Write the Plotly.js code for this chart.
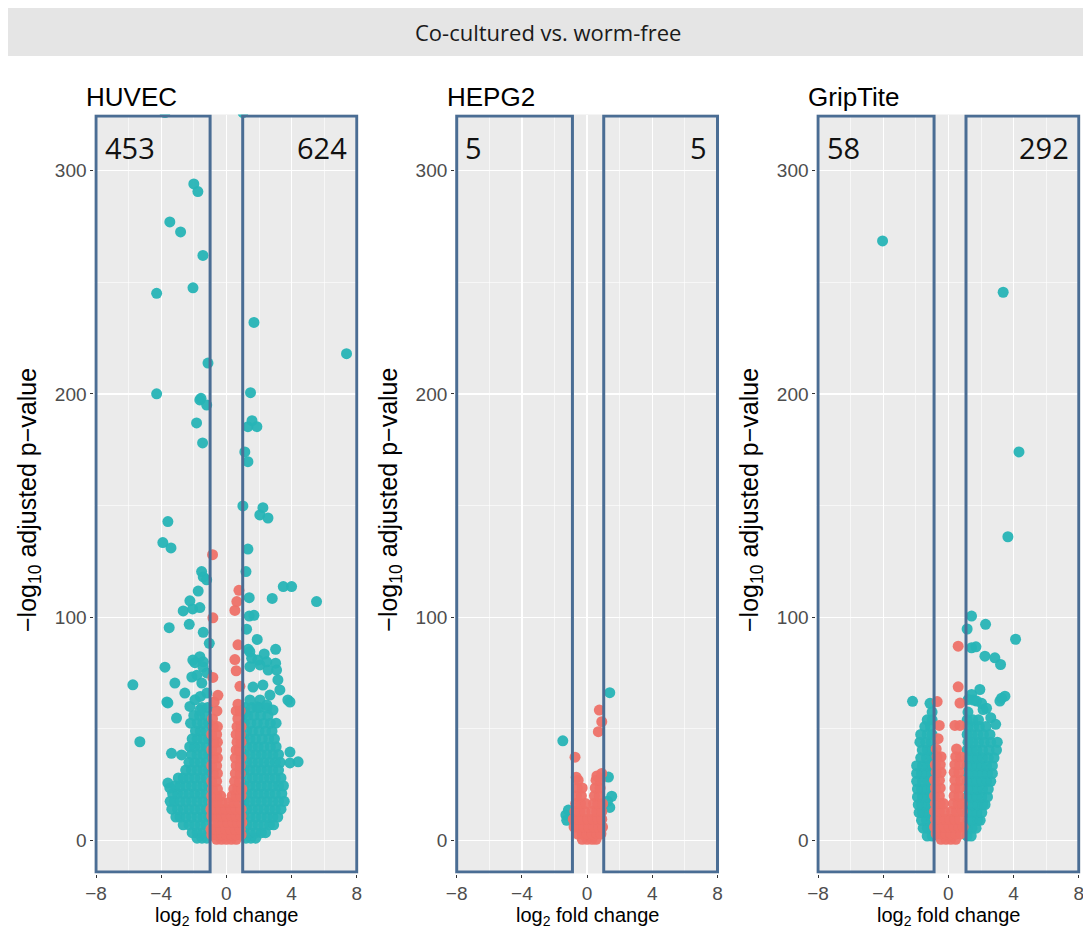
<!DOCTYPE html>
<html>
<head>
<meta charset="utf-8">
<script src="https://cdn.plot.ly/plotly-3.0.1.min.js"></script>
<style>html,body{margin:0;padding:0;background:#fff;}#chart{width:1083px;height:931px;}</style>
</head>
<body>
<div id="chart"></div>
<script>
// ---------------- DATA ----------------
const stripTitle = 'Co-cultured vs. worm-free';
const panelNames = ['HUVEC', 'HEPG2', 'GripTite'];
const countsDown = [453, 5, 58];
const countsUp = [624, 5, 292];
const xTickVals = [-8, -4, 0, 4, 8];
const yTickVals = [0, 100, 200, 300];

// rows: [ -log10 padj, [log2FC values ...] ]  (dense clouds)
const huvecSigRows = [
  [1, [-1.2,-1.5,-1.8, 1.2,1.5,1.8]],
  [3.5, [-1.1,-1.45,-1.8,-2.1, 1.1,1.45,1.8,2.15,2.4]],
  [7, [-1.25,-1.6,-1.95,-2.3,-2.65, 1.25,1.6,1.95,2.3,2.65,2.9]],
  [10.5, [-1.1,-1.45,-1.8,-2.15,-2.5,-2.85,-3.1, 1.1,1.45,1.8,2.15,2.5,2.85,3.15]],
  [14, [-1.25,-1.6,-1.95,-2.3,-2.65,-3.0,-3.35, 1.25,1.6,1.95,2.3,2.65,3.0,3.35]],
  [17.5, [-1.1,-1.45,-1.8,-2.15,-2.5,-2.85,-3.2,-3.45, 1.1,1.45,1.8,2.15,2.5,2.85,3.2,3.55]],
  [21, [-1.25,-1.6,-1.95,-2.3,-2.65,-3.0,-3.3, 1.25,1.6,1.95,2.3,2.65,3.0,3.4]],
  [24.5, [-1.1,-1.45,-1.8,-2.15,-2.5,-2.85,-3.15, 1.1,1.45,1.8,2.15,2.5,2.85,3.2,3.5]],
  [28, [-1.25,-1.6,-1.95,-2.3,-2.65,-2.95, 1.25,1.6,1.95,2.3,2.65,3.0,3.35]],
  [31.5, [-1.1,-1.45,-1.8,-2.15,-2.5, 1.1,1.45,1.8,2.15,2.5,2.85,3.2]],
  [35, [-1.25,-1.6,-1.95,-2.3, 1.25,1.6,1.95,2.3,2.65,3.0,3.3]],
  [38.5, [-1.1,-1.45,-1.8,-2.15, 1.1,1.45,1.8,2.15,2.5,2.85,3.2]],
  [42, [-1.25,-1.6,-1.95,-2.25, 1.25,1.6,1.95,2.3,2.7,3.05]],
  [45.5, [-1.1,-1.45,-1.8,-2.1, 1.1,1.45,1.8,2.2,2.6,2.95]],
  [49, [-1.25,-1.6,-1.9, 1.25,1.6,2.0,2.4,2.8]],
  [52.5, [-1.1,-1.45,-1.8,-2.2, 1.1,1.5,1.9,2.3,2.7,3.05]],
  [56, [-1.3,-1.65,-2.0, 1.3,1.7,2.1,2.55]],
  [59.5, [-1.15,-1.5, 1.15,1.55,2.0]]
];
const huvecSigPoints = [
  [-3.77,326],[1.02,326],[-2.0,294],[-1.75,290.6],[-3.47,277],[-2.81,272.5],[-1.44,262],
  [-4.28,245],[-2.05,247.5],[1.69,232],[7.37,218],[-1.13,213.8],[-4.28,200],[1.48,200.5],
  [-1.56,198],[-1.63,197.3],[-1.21,195],[-1.83,187],[1.32,185.3],[1.57,188],[1.87,185.3],
  [-1.46,178],[1.13,174],[1.32,169.6],[1.01,149.8],[2.24,149],[2.05,145.8],[2.55,144.4],
  [-3.59,142.8],[-3.9,133.4],[-3.4,131],[1.32,130.5],[-1.52,120.4],[-1.42,118],[-1.21,116.7],
  [1.2,120.4],[3.49,113.7],[4.0,113.7],[-1.73,111.7],[1.4,108.7],[2.81,108.4],[5.53,107],
  [-2.24,107.3],[-2.65,102.8],[-2.07,103.7],[-1.63,104.3],[-2.28,96.8],[1.4,100.5],[1.69,100.8],
  [1.24,94.6],[-3.51,95.3],[-1.42,93.2],[1.89,90],[-1.05,88.3],[1.34,85.6],[2.32,83.5],
  [3.02,85.6],[1.55,81.6],[-1.63,82.3],[-1.93,79.6],[-1.42,80],[-3.77,77.6],[2.06,78.6],
  [3.02,79.4],[2.56,76.3],[1.44,77.8],[1.44,84.5],[1.93,80.8],[2.47,80],[3.08,76.3],
  [-2.06,80.8],[-1.44,77.7],[-1.81,74],[-2.12,73.2],[-1.2,75],[-1.51,70.5],
  [-5.74,69.7],[-3.16,70.5],[-3.65,62],[-2.55,66],[2.24,69.6],[3.16,71.9],[3.28,67.4],
  [2.67,65.1],[3.77,62.9],[2.06,62.9],[2.49,59.3],[2.86,58.4],[1.63,68.7],[1.44,62.9],
  [1.87,59.8],[1.13,57.1],[-5.31,44.2],[-3.59,61.6],[-3.06,54.8],[-3.37,39],[-2.75,38.3],
  [-3.59,25.7],[-3.47,23.5],[3.9,34.7],[4.4,35.2],[3.9,39.6],[3.9,62],[2.48,60.7],
  [-1.93,63],[-2.24,60],[-1.63,58.4],[-1.2,66],[-1.6,64.5]
];
const huvecNsRows = [
  [0.5, [-0.6,-0.3,0,0.3,0.6]],
  [2.5, [-0.9,-0.6,-0.3,0,0.3,0.6,0.9]],
  [5, [-0.95,-0.65,-0.35,-0.05,0.25,0.55,0.85]],
  [8, [-0.8,-0.5,-0.2,0.1,0.4,0.7,0.95]],
  [11, [-0.9,-0.6,-0.3,0,0.3,0.6,0.9]],
  [14, [-0.95,-0.65,-0.35,-0.05,0.3,0.6,0.9]],
  [17, [-0.85,-0.55,-0.25,0.15,0.45,0.75]],
  [20, [-0.9,-0.6,-0.35,0.35,0.6,0.9]],
  [23, [-0.85,-0.55,0.45,0.7,0.95]],
  [26.5, [-0.9,-0.6,0.5,0.8]],
  [30, [-0.8,-0.55,0.55,0.85]],
  [33.5, [-0.9,-0.6,0.6,0.85]],
  [37, [-0.8,-0.55,0.55,0.9]],
  [40.5, [-0.9,-0.6,0.6,0.8]],
  [44, [-0.75,-0.55,0.65,0.9]],
  [47.5, [-0.9,-0.6,0.6,0.85]],
  [51, [-0.8,-0.55,0.65,0.9]],
  [54.5, [-0.85,0.7]],
  [58, [-0.58,0.6,0.85]]
];
const huvecNsPoints = [
  [0.71,61],[-0.75,62],[-0.52,65],[0.83,69],[-0.83,73],[0.6,76],[0.52,81],[0.71,87.6],
  [-0.83,99.7],[0.52,103],[0.64,107],[0.77,112],[-0.85,128]
];

const hepg2SigPoints = [
  [1.39,66.2],[-1.49,44.6],[1.31,28.4],[1.51,19.8],[1.39,14.8],[1.25,17.5],
  [-1.3,11.4],[-1.15,13.6],[-1.25,9]
];
const hepg2NsRows = [
  [0.5, [-0.3,0,0.3,0.55]],
  [3, [-0.6,-0.3,0,0.3,0.6,0.85]],
  [6, [-0.8,-0.5,-0.2,0.1,0.4,0.7,0.95]],
  [9.5, [-0.85,-0.55,-0.25,0.05,0.35,0.65,0.9]],
  [13, [-0.75,-0.45,-0.15,0.3,0.6,0.9]],
  [16.5, [-0.7,-0.4,-0.1,0.4,0.65,0.95]],
  [20, [-0.65,-0.35,0.45,0.75]],
  [23.5, [-0.6,-0.3,0.5,0.8]],
  [27, [-0.55,0.55,0.8]]
];
const hepg2NsPoints = [
  [0.75,58.4],[0.9,53.2],[0.69,48.7],[-0.74,37.3],[-0.67,28.3],[0.6,28.9],[0.9,30]
];

const gripSigRows = [
  [2, [-1.0,-1.3, 1.15,1.4]],
  [5.5, [-1.0,-1.3,-1.55, 1.15,1.45,1.7]],
  [9, [-1.05,-1.35,-1.65, 1.2,1.5,1.8,1.95]],
  [12.5, [-1.0,-1.3,-1.6,-1.8, 1.15,1.45,1.75,2.05]],
  [16, [-1.05,-1.35,-1.65,-1.85, 1.2,1.5,1.8,2.1,2.25]],
  [19.5, [-1.0,-1.3,-1.6,-1.9, 1.15,1.45,1.75,2.05,2.4]],
  [23, [-1.05,-1.35,-1.65,-1.9, 1.2,1.5,1.8,2.1,2.45]],
  [26.5, [-1.0,-1.3,-1.6,-1.95, 1.15,1.45,1.75,2.05,2.35,2.6]],
  [30, [-1.05,-1.35,-1.65,-1.95, 1.2,1.5,1.8,2.1,2.4,2.7]],
  [33.5, [-1.0,-1.3,-1.6,-1.95, 1.15,1.45,1.75,2.05,2.35,2.7]],
  [37, [-1.05,-1.35,-1.7, 1.2,1.5,1.8,2.1,2.45,2.8]],
  [40.5, [-1.0,-1.3,-1.6, 1.15,1.45,1.75,2.1,2.5,2.95]],
  [44, [-1.05,-1.4,-1.75, 1.2,1.5,1.85,2.2,2.6,3.0]],
  [47.5, [-1.0,-1.3,-1.7, 1.15,1.45,1.8,2.15,2.55]],
  [51, [-1.1,-1.45, 1.2,1.55,1.9,2.3]],
  [54, [-1.0,-1.3, 1.15,1.5,1.85]]
];
const gripSigPoints = [
  [-4.04,268.5],[3.36,245.5],[4.33,174],[3.65,136],[1.42,100.5],[2.28,96.8],[1.15,94.7],
  [4.12,90.1],[1.42,86.3],[1.69,86.7],[2.24,82.5],[2.85,81.8],[3.2,78.8],[1.93,67.6],
  [1.42,65.4],[1.21,63.1],[1.73,62.4],[2.13,58.6],[3.16,62.4],[3.47,64.6],[3.26,63.7],
  [2.04,61.4],[2.34,59.2],[1.53,62.9],[-2.2,62.3],[-1.13,61.4],[-1.0,57.5],[1.2,57.5],
  [2.6,55],[2.9,52]
];
const gripNsRows = [
  [0.5, [-0.45,-0.15,0.15,0.45]],
  [3, [-0.75,-0.45,-0.15,0.15,0.45,0.75]],
  [6, [-0.85,-0.55,-0.25,0.05,0.35,0.65,0.9]],
  [9.5, [-0.8,-0.5,-0.2,0.1,0.4,0.7]],
  [13, [-0.85,-0.55,-0.25,0.2,0.5,0.85]],
  [16.5, [-0.8,-0.5,-0.3,0.3,0.6,0.85]],
  [20, [-0.85,-0.55,0.35,0.65]],
  [23.5, [-0.8,-0.5,0.4,0.7]],
  [27, [-0.85,-0.55,0.4,0.75]],
  [30.5, [-0.75,-0.45,0.35,0.65]],
  [34, [-0.8,-0.5,0.4,0.7]],
  [37.5, [-0.7,-0.45,0.45,0.75]],
  [41, [-0.75,0.5]],
  [45.6, [-0.63]],
  [51.5, [-0.56,0.4,0.71]]
];
const gripNsPoints = [[0.71,61.5],[-0.69,62.2],[0.6,68.8],[0.6,87]];

// ---------------- BUILD ----------------
function expand(rows) { return rows.flatMap(([y, xs]) => xs.map(x => [x, y])); }
const panels = [
  { sig: expand(huvecSigRows).concat(huvecSigPoints), ns: expand(huvecNsRows).concat(huvecNsPoints), thr: [-1.0, 1.0] },
  { sig: hepg2SigPoints, ns: expand(hepg2NsRows).concat(hepg2NsPoints), thr: [-0.9, 1.02] },
  { sig: expand(gripSigRows).concat(gripSigPoints), ns: expand(gripNsRows).concat(gripNsPoints), thr: [-0.88, 1.08] }
];

const W = 1083, H = 931;
const pxPerX = 16.3;
const leftEdgePx = [96, 456.7, 818];      // pixel of x = -8
const xRange = [-8.1, 8.1];
const yRange = [-14.8, 325.1];
const yTopPx = 114.5, yBotPx = 873.5;
const rectY = [-14.1, 324.4];
const teal = '#27B4B6', salmon = '#EE7168', boxColor = '#4A6D94';
const tickFont = { family: 'Liberation Sans, Arial, sans-serif', size: 19, color: '#4d4d4d' };

const data = [];
const layout = {
  width: W, height: H, margin: { l: 0, r: 0, t: 0, b: 0 },
  paper_bgcolor: '#ffffff', showlegend: false,
  shapes: [], annotations: []
};
layout.shapes.push({ type: 'rect', xref: 'paper', yref: 'paper', x0: 8 / W, x1: 1, y0: 1 - 56 / H, y1: 1 - 8 / H,
  fillcolor: '#e5e5e5', line: { width: 0 }, layer: 'below' });
layout.annotations.push({ xref: 'paper', yref: 'paper', x: 548 / W, y: 1 - 32 / H, xanchor: 'center', yanchor: 'middle',
  text: stripTitle, showarrow: false, font: { family: 'Open Sans, sans-serif', size: 22, color: '#1a1a1a' } });

panels.forEach((p, i) => {
  const n = i === 0 ? '' : String(i + 1);
  const xa = 'x' + n, ya = 'y' + n;
  const d0 = leftEdgePx[i] + (xRange[0] + 8) * pxPerX;
  const d1 = leftEdgePx[i] + (xRange[1] + 8) * pxPerX;
  const axisCommon = {
    showline: false, zeroline: false, ticks: 'outside', ticklen: 3, tickcolor: '#333333', tickwidth: 1,
    showgrid: true, gridcolor: '#ffffff', gridwidth: 1.3, tickfont: tickFont, fixedrange: true,
    ticklabeloverflow: 'allow'
  };
  layout['xaxis' + n] = Object.assign({}, axisCommon, {
    domain: [d0 / W, d1 / W], range: xRange, anchor: ya, tickmode: 'array', tickvals: xTickVals,
    minor: { dtick: 2, tick0: 0, showgrid: true, gridcolor: '#ffffff', gridwidth: 0.6, ticks: '' }
  });
  layout['yaxis' + n] = Object.assign({}, axisCommon, {
    domain: [1 - yBotPx / H, 1 - yTopPx / H], range: yRange, anchor: xa, tickmode: 'array', tickvals: yTickVals,
    minor: { dtick: 50, tick0: 0, showgrid: true, gridcolor: '#ffffff', gridwidth: 0.6, ticks: '' }
  });
  layout.shapes.push({ type: 'rect', xref: 'paper', yref: 'paper', x0: d0 / W, x1: d1 / W,
    y0: 1 - yBotPx / H, y1: 1 - yTopPx / H, fillcolor: '#ebebeb', line: { width: 0 }, layer: 'below' });

  data.push({ type: 'scatter', mode: 'markers', xaxis: xa, yaxis: ya,
    x: p.sig.map(v => v[0]), y: p.sig.map(v => v[1]),
    marker: { color: teal, size: 11, opacity: 0.95 }, hoverinfo: 'skip' });
  data.push({ type: 'scatter', mode: 'markers', xaxis: xa, yaxis: ya,
    x: p.ns.map(v => v[0]), y: p.ns.map(v => v[1]),
    marker: { color: salmon, size: 11, opacity: 0.95 }, hoverinfo: 'skip' });

  // threshold boxes
  [[-8, p.thr[0]], [p.thr[1], 8]].forEach(([a, b]) => {
    layout.shapes.push({ type: 'rect', xref: xa, yref: ya, x0: a, x1: b, y0: rectY[0], y1: rectY[1],
      line: { color: boxColor, width: 3 }, fillcolor: 'rgba(0,0,0,0)', layer: 'above' });
  });

  // counts
  const cFont = { family: 'Open Sans, sans-serif', size: 29, color: '#111111' };
  layout.annotations.push({ xref: xa, yref: ya, x: -7.6, y: 310.5, xanchor: 'left', yanchor: 'middle',
    text: String(countsDown[i]), showarrow: false, font: cFont });
  layout.annotations.push({ xref: xa, yref: ya, x: 7.5, y: 310.5, xanchor: 'right', yanchor: 'middle',
    text: String(countsUp[i]), showarrow: false, font: cFont });

  // panel title
  layout.annotations.push({ xref: 'paper', yref: 'paper', x: (leftEdgePx[i] - 12) / W, y: 1 - 97 / H,
    xanchor: 'left', yanchor: 'middle', text: panelNames[i], showarrow: false,
    font: { family: 'Liberation Sans, Arial, sans-serif', size: 26, color: '#000000' } });
  // axis titles
  layout.annotations.push({ xref: 'paper', yref: 'paper', x: (leftEdgePx[i] + 130.5) / W, y: 0,
    xanchor: 'center', yanchor: 'bottom', yshift: 1, borderpad: 0, text: 'log<sub>2</sub> fold change', showarrow: false,
    font: { family: 'Liberation Sans, Arial, sans-serif', size: 20, color: '#000000' } });
  layout.annotations.push({ xref: 'paper', yref: 'paper', x: (leftEdgePx[i] - 67) / W, y: 1 - 500 / H,
    xanchor: 'center', yanchor: 'middle', textangle: -90, text: '\u2212log<sub>10</sub> adjusted p\u2212value',
    showarrow: false, font: { family: 'Liberation Sans, Arial, sans-serif', size: 25, color: '#000000' } });
});

Plotly.newPlot('chart', data, layout, { displayModeBar: false, staticPlot: true });
</script>
</body>
</html>
